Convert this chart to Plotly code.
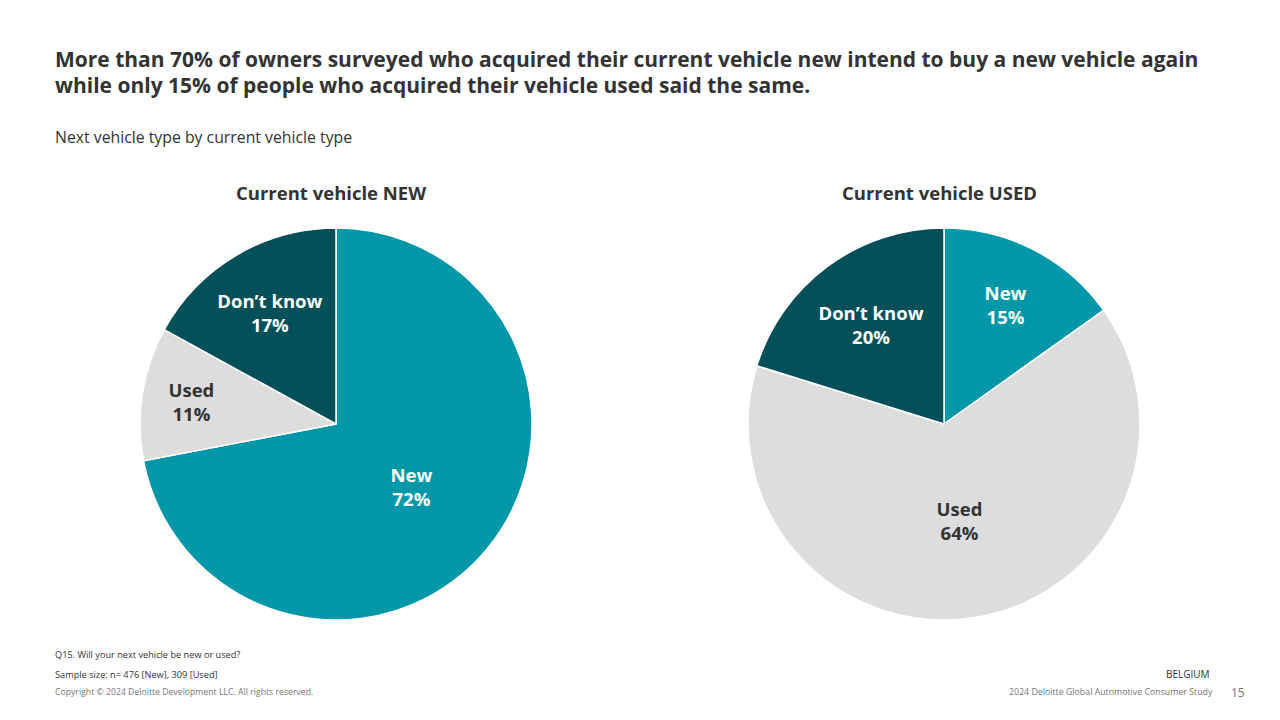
import plotly.graph_objects as go

categories = ["New", "Used", "Don\u2019t know"]
new_owner_values = [72, 11, 17]
used_owner_values = [15, 64, 20]
colors = ["#0097A9", "#DDDDDD", "#004F59"]
text_colors = ["white", "#333333", "white"]

W, H = 1280, 720
OFF = 8  # page body margin


def dom(x0, y0, size):
    x0 -= OFF
    y0 -= OFF
    return dict(x=[x0 / W, (x0 + size) / W], y=[(H - y0 - size) / H, (H - y0) / H])


def labels(vals):
    return [f"<b>{c}<br>{v}%</b>" for c, v in zip(categories, vals)]


fig = go.Figure()
for vals, x0 in [(new_owner_values, 140), (used_owner_values, 748)]:
    fig.add_trace(go.Pie(
        labels=categories, values=vals, text=labels(vals),
        textinfo="text", sort=False, direction="clockwise", rotation=0,
        marker=dict(colors=colors, line=dict(color="white", width=1.5)),
        textfont=dict(size=18.5, color=text_colors, family="Open Sans"),
        insidetextorientation="horizontal", showlegend=False,
        hoverinfo="label+percent", domain=dom(x0, 228, 392),
    ))

fig.update_layout(
    width=W, height=H, margin=dict(l=0, r=0, t=0, b=0),
    paper_bgcolor="white", font=dict(family="Open Sans", color="#333333"),
)


def txt(x, y, s, size, anchor="left", color="#333333"):
    fig.add_annotation(x=(x - OFF) / W, y=1 - (y - OFF) / H, xref="paper", yref="paper", text=s,
                       showarrow=False, xanchor=anchor, yanchor="middle",
                       font=dict(size=size, color=color), align=anchor)


txt(53, 59, "<b>More than 70% of owners surveyed who acquired their current vehicle new intend to buy a new vehicle again</b>", 21)
txt(53, 85, "<b>while only 15% of people who acquired their vehicle used said the same.</b>", 21)
txt(53, 137, "Next vehicle type by current vehicle type", 15.8)
txt(331, 192, "<b>Current vehicle NEW</b>", 18.5, "center")
txt(939, 192, "<b>Current vehicle USED</b>", 18.5, "center")
txt(53, 654, "Q15. Will your next vehicle be new or used?", 9.2)
txt(53, 674, "Sample size: n= 476 [New], 309 [Used]", 9.2)
txt(53, 692, "Copyright \u00a9 2024 Deloitte Development LLC. All rights reserved.", 8.7, color="#777777")
txt(1212, 674, "BELGIUM", 10, "right")
txt(1215, 692, "2024 Deloitte Global Automotive Consumer Study", 8.8, "right", "#777777")
txt(1247, 692, "15", 12, "right", "#777777")

fig.write_html("out.html")
